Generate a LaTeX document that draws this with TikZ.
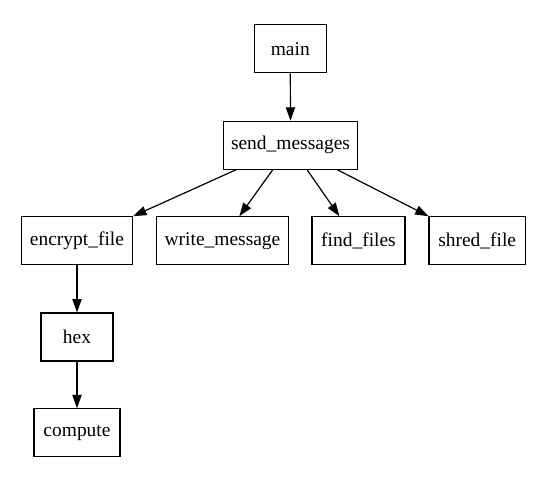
\documentclass[tikz,border=0pt]{standalone}
\usepackage{fontspec}
\setmainfont{Liberation Serif}
\usetikzlibrary{arrows.meta,calc}
\begin{document}
\begin{tikzpicture}[x=0.75pt,y=-0.75pt,
  box/.style={draw,line width=0.9pt,rectangle,minimum height=36pt,inner sep=0pt,
    font=\fontsize{14.6pt}{16pt}\selectfont},
  arr/.style={line width=0.9pt,-{Triangle[length=10pt,width=7pt]}}]
\useasboundingbox (0,0) rectangle (554,485);
\node[box,minimum width=54pt]   (main) at (290.3,48.8)  {main};
\node[box,minimum width=100.8pt](sm)   at (290.5,145.2) {send\_messages};
\node[box,minimum width=83.3pt] (ef)   at (77,240.8)    {encrypt\_file};
\node[box,minimum width=98.7pt] (wm)   at (222.5,240.8) {write\_message};
\node[box,minimum width=69.8pt] (ff)   at (358.5,240.8) {find\_files};
\node[box,minimum width=72.2pt] (sf)   at (477.2,240.8) {shred\_file};
\node[box,minimum width=54pt]   (hex)  at (77,337)      {hex};
\node[box,minimum width=64.5pt] (cp)   at (77,432.8)    {compute};
\draw[arr] (main.south) -- (sm.north);
\draw[arr] ($(sm.south west)+(13.2,0)$) -- (ef.north east);
\draw[arr] ($(sm.south west)+(50,0)$) -- ($(wm.north west)+(83.3,0)$);
\draw[arr] ($(sm.south west)+(84.4,0)$) -- ($(ff.north west)+(28,0)$);
\draw[arr] ($(sm.south west)+(114.7,0)$) -- (sf.north west);
\draw[arr] (ef.south) -- (hex.north);
\draw[arr] (hex.south) -- (cp.north);
\end{tikzpicture}
\end{document}
